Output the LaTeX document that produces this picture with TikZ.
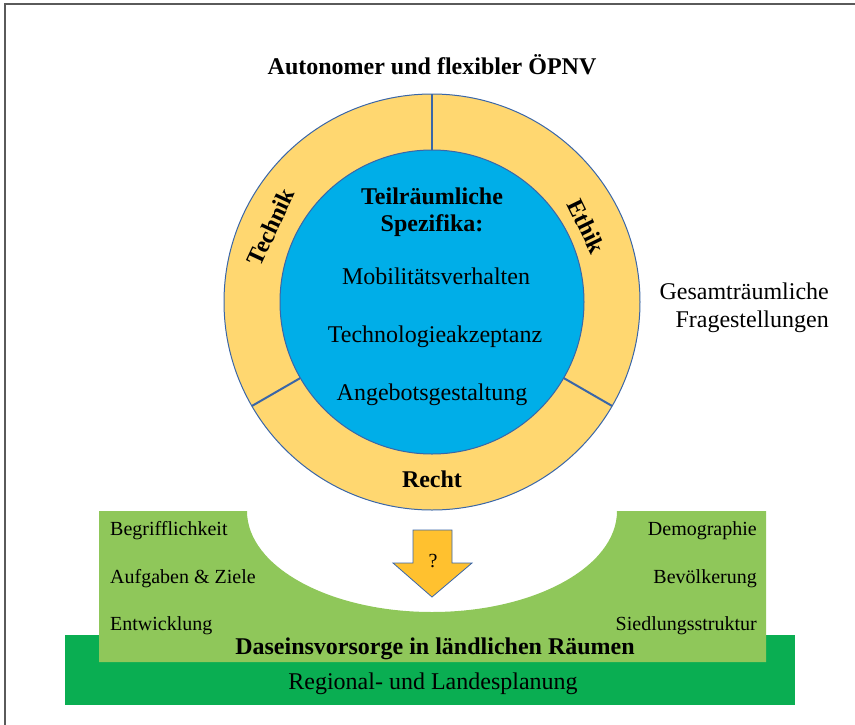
\documentclass[tikz,border=0pt]{standalone}
\usepackage{fontspec}
\setmainfont{Liberation Serif}
\usetikzlibrary{positioning}

\definecolor{ringfill}{HTML}{FFD770}
\definecolor{corefill}{HTML}{00AEE8}
\definecolor{edgeblue}{HTML}{3A66A8}
\definecolor{lightgreen}{HTML}{8FC75A}
\definecolor{darkgreen}{HTML}{0AAE52}
\definecolor{arrowfill}{HTML}{FFC12F}
\definecolor{framegray}{HTML}{5A5A5A}

\begin{document}
\begin{tikzpicture}[x=1pt,y=1pt,
  big text/.style={font=\fontsize{24}{28}\selectfont,inner sep=0pt,anchor=base},
  big bold/.style={big text,font=\fontsize{24}{28}\selectfont\bfseries},
  small text/.style={font=\fontsize{20}{24}\selectfont,inner sep=0pt,anchor=base},
  ring edge/.style={draw=edgeblue,line width=1pt}]

  \useasboundingbox (0,0) rectangle (855,-724);
  \draw[framegray,line width=1.5pt] (5,-4) rectangle (880,-760);

  % base of the picture
  \fill[darkgreen] (65,-635) rectangle (795,-705);
  \fill[lightgreen] (99,-511) -- (247,-511)
    arc[start angle=180,end angle=360,x radius=185,y radius=101]
    -- (766,-511) -- (766,-662) -- (99,-662) -- cycle;

  % ring and core
  \coordinate (c) at (432,-302);
  \filldraw[fill=ringfill,ring edge] (c) circle[radius=208];
  \filldraw[fill=corefill,ring edge] (c) circle[radius=152];
  \foreach \a in {90,210,330}
    \draw[edgeblue,line width=2pt] ([shift={(\a:152)}]c) -- ([shift={(\a:208)}]c);

  \node[big bold,anchor=center,rotate=65] (technik) at ([shift={(155:178)}]c) {Technik};
  \node[big bold,anchor=center,rotate=-64] (ethik) at ([shift={(26:172)}]c) {Ethik};
  \node[big bold] (recht) at (432,-487) {Recht};

  \node[big bold] (title) at (432,-74) {Autonomer und flexibler ÖPNV};
  \node[big bold] (teil) at (432,-204) {Teilräumliche};
  \node[big bold] (spez) at (432,-231) {Spezifika:};
  \node[big text] (mobil) at (436,-284) {Mobilitätsverhalten};
  \node[big text] (techak) at (435,-342) {Technologieakzeptanz};
  \node[big text] (angebot) at (432,-400) {Angebotsgestaltung};

  \node[big text,anchor=base east] (gesamt) at (829,-299) {Gesamträumliche};
  \node[big text,anchor=base east] (frage) at (829,-327) {Fragestellungen};

  % left and right lists
  \node[small text,anchor=base west] (begriff) at (110,-535) {Begrifflichkeit};
  \node[small text,anchor=base west] (aufgaben) at (110,-583) {Aufgaben \& Ziele};
  \node[small text,anchor=base west] (entw) at (110,-630) {Entwicklung};
  \node[small text,anchor=base east] (demo) at (757,-535) {Demographie};
  \node[small text,anchor=base east] (bevoelk) at (757,-583) {Bevölkerung};
  \node[small text,anchor=base east] (siedl) at (757,-630) {Siedlungsstruktur};

  \node[big bold] (dasein) at (435,-654) {Daseinsvorsorge in ländlichen Räumen};
  \node[big text] (regional) at (433,-689) {Regional- und Landesplanung};

  % arrow
  \filldraw[fill=arrowfill,draw=edgeblue,line width=0.8pt]
    (413,-530) -- (452,-530) -- (452,-563) -- (472,-563) -- (432,-597)
    -- (393,-563) -- (413,-563) -- cycle;
  \node[small text] (frage2) at (433,-567) {?};
\end{tikzpicture}
\end{document}
